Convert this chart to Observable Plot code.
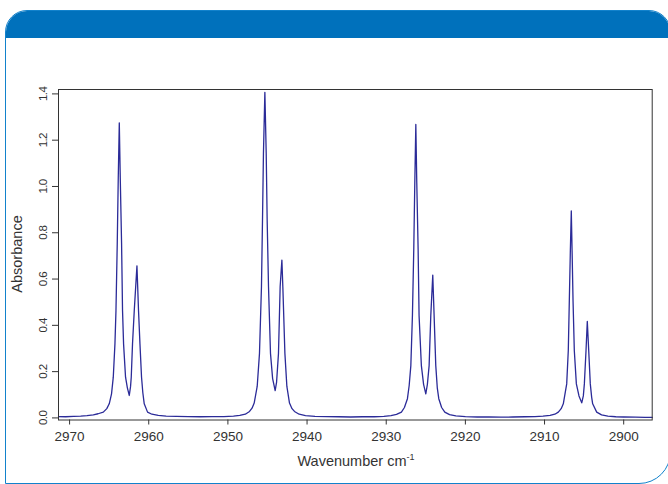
<!DOCTYPE html>
<html>
<head>
<meta charset="utf-8">
<script src="https://cdn.jsdelivr.net/npm/d3@7"></script>
<script src="https://cdn.jsdelivr.net/npm/@observablehq/plot@0.6"></script>
<style>
  html, body { margin: 0; padding: 0; background: #fff; }
  #wrap { position: relative; width: 668px; height: 484px; overflow: hidden; font-family: "Liberation Sans", Arial, sans-serif; }
  #panel { position: absolute; left: 5px; top: 10px; width: 666px; height: 474px; border: 1.6px solid #1282cc; border-radius: 22px 22px 32px 0; overflow: hidden; box-sizing: border-box; }
  #header { position: absolute; left: 0; top: 0; width: 100%; height: 27px; background: #0071bc; }
  #chart { position: absolute; left: 0; top: 0; }
</style>
</head>
<body>
<div id="wrap">
  <div id="panel"><div id="header"></div></div>
  <div id="chart"></div>
</div>
<script>
// Wavenumber (cm-1) and absorbance
const wavenumber = [
  2971.4, 2970.5, 2969.5, 2968.6, 2967.8, 2967.0, 2966.4, 2965.74, 2965.3, 2964.99,
  2964.70, 2964.48, 2964.27, 2964.14, 2963.98, 2963.85, 2963.72, 2963.60, 2963.43, 2963.31,
  2963.18, 2962.93, 2962.70, 2962.46, 2962.30, 2962.21, 2962.05, 2961.83, 2961.49, 2961.29,
  2961.11, 2960.91, 2960.75, 2960.57, 2960.15, 2959.6, 2958.8, 2957.8, 2956.5, 2955.0,
  2953.5, 2952.0, 2950.5, 2949.3, 2948.5, 2947.8, 2947.27, 2946.95, 2946.68, 2946.30,
  2946.01, 2945.76, 2945.63, 2945.51, 2945.33, 2945.16, 2945.04, 2944.87, 2944.62, 2944.35,
  2944.03, 2943.85, 2943.61, 2943.40, 2943.18, 2943.06, 2942.80, 2942.55, 2942.22, 2941.90,
  2941.59, 2941.0, 2940.2, 2939.0, 2937.5, 2936.0, 2934.5, 2933.0, 2931.5, 2930.3,
  2929.4, 2928.7, 2928.08, 2927.7, 2927.32, 2927.10, 2926.89, 2926.69, 2926.52, 2926.39,
  2926.26, 2926.14, 2925.97, 2925.85, 2925.56, 2925.28, 2925.00, 2924.80, 2924.58, 2924.37,
  2924.12, 2923.95, 2923.74, 2923.55, 2923.36, 2923.0, 2922.60, 2922.0, 2921.2, 2920.0,
  2918.5, 2917.0, 2915.5, 2914.0, 2912.5, 2911.2, 2910.2, 2909.3, 2908.7, 2908.26,
  2907.90, 2907.63, 2907.20, 2907.00, 2906.87, 2906.74, 2906.62, 2906.52, 2906.40, 2906.24,
  2905.98, 2905.65, 2905.30, 2905.10, 2904.97, 2904.76, 2904.60, 2904.42, 2904.22, 2904.05,
  2903.92, 2903.41, 2902.8, 2902.0, 2901.0, 2900.0, 2898.5, 2897.3, 2896.4
];
const absorbance = [
  0.006, 0.005, 0.007, 0.008, 0.010, 0.013, 0.018, 0.025, 0.040, 0.061,
  0.104, 0.176, 0.320, 0.463, 0.750, 1.040, 1.275, 1.040, 0.750, 0.463,
  0.320, 0.176, 0.130, 0.097, 0.135, 0.176, 0.320, 0.463, 0.657, 0.463,
  0.320, 0.176, 0.110, 0.061, 0.025, 0.016, 0.011, 0.008, 0.007, 0.006,
  0.005, 0.006, 0.006, 0.008, 0.011, 0.016, 0.028, 0.042, 0.064, 0.136,
  0.279, 0.567, 0.854, 1.141, 1.407, 1.141, 0.854, 0.567, 0.279, 0.170,
  0.118, 0.155, 0.279, 0.567, 0.682, 0.567, 0.279, 0.136, 0.064, 0.040,
  0.028, 0.016, 0.010, 0.007, 0.006, 0.005, 0.004, 0.005, 0.005, 0.007,
  0.010, 0.015, 0.025, 0.045, 0.083, 0.140, 0.226, 0.442, 0.729, 1.016,
  1.268, 1.016, 0.729, 0.442, 0.226, 0.145, 0.104, 0.145, 0.226, 0.442,
  0.617, 0.442, 0.226, 0.130, 0.083, 0.045, 0.025, 0.014, 0.009, 0.006,
  0.004, 0.004, 0.003, 0.004, 0.005, 0.006, 0.008, 0.011, 0.016, 0.025,
  0.040, 0.061, 0.147, 0.291, 0.506, 0.722, 0.894, 0.722, 0.506, 0.291,
  0.147, 0.095, 0.065, 0.095, 0.147, 0.291, 0.417, 0.291, 0.147, 0.090,
  0.061, 0.025, 0.013, 0.008, 0.005, 0.004, 0.003, 0.002, 0.002
];
const xTicks = [2970, 2960, 2950, 2940, 2930, 2920, 2910, 2900];
const yTicks = [0.0, 0.2, 0.4, 0.6, 0.8, 1.0, 1.2, 1.4];
const xLabel = "Wavenumber cm";
const xLabelSup = "-1";
const yLabel = "Absorbance";

const spectrum = wavenumber.map((w, i) => ({w, a: absorbance[i]}));

const W = 668, H = 484;
const mL = 58, mR = 16.3, mT = 89, mB = 64.5;

const svg = Plot.plot({
  width: W,
  height: H,
  marginLeft: mL,
  marginRight: mR,
  marginTop: mT,
  marginBottom: mB,
  style: {fontFamily: "'Liberation Sans', Arial, sans-serif", fontSize: "13.5px", color: "#333", background: "transparent"},
  x: {domain: [2971.4, 2896.4]},
  y: {domain: [-0.009, 1.419]},
  marks: [
    Plot.line(spectrum, {x: "w", y: "a", stroke: "#2b2b98", strokeWidth: 1.3}),
    Plot.frame({stroke: "#333", strokeWidth: 1}),
    Plot.axisX({ticks: xTicks, tickFormat: "d", tickSize: 5, tickPadding: 6, label: null, stroke: "#333"}),
    Plot.axisY({ticks: yTicks, tickFormat: ".1f", tickSize: 6, tickPadding: 6, tickRotate: -90, fontSize: 11.5, label: null, stroke: "#333"})
  ]
});

const s = d3.select(svg);
s.selectAll('g[aria-label="y-axis tick label"] text').style("letter-spacing", "-0.6px");
s.append("text")
  .attr("x", 18).attr("y", 254)
  .attr("transform", "rotate(-90, 18, 254)")
  .attr("text-anchor", "middle").attr("dominant-baseline", "middle")
  .attr("fill", "#333").style("font-size", "14.5px")
  .text(yLabel);
const xl = s.append("text")
  .attr("x", 356).attr("y", 466)
  .attr("text-anchor", "middle")
  .attr("fill", "#333").style("font-size", "14.5px");
xl.append("tspan").text(xLabel);
xl.append("tspan").attr("dy", -6).style("font-size", "9px").text(xLabelSup);

document.getElementById("chart").appendChild(svg);
</script>
</body>
</html>
